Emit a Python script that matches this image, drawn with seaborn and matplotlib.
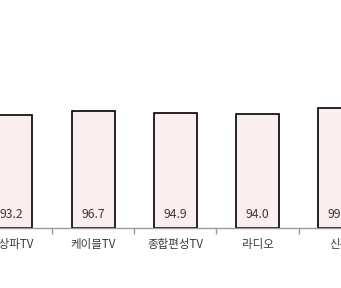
import matplotlib
matplotlib.use("Agg")
import matplotlib.pyplot as plt
import seaborn as sns
import pandas as pd
from matplotlib.ticker import FixedLocator
import matplotlib.transforms as mtransforms

categories = ["지상파TV", "케이블TV", "종합편성TV", "라디오", "신문"]
values = [93.2, 96.7, 94.9, 94.0, 99.0]
value_labels = ["93.2", "96.7", "94.9", "94.0", "99.0"]

sns.set_style("white")
plt.rcParams['font.family'] = ['Noto Sans CJK KR', 'DejaVu Sans']

df = pd.DataFrame({"cat": categories, "val": values})

fig = plt.figure(figsize=(3.41, 2.88), dpi=100)
ax = fig.add_axes([0, 60/288, 1, 228/288])
sns.barplot(data=df, x="cat", y="val", ax=ax, color="#FBEEEE",
            edgecolor="black", linewidth=1.2, width=0.52, saturation=1)

ax.set_xlim(-0.134, 4.015)
ax.set_ylim(0, 188.4)
ax.set_xlabel("")
ax.set_ylabel("")
ax.set_yticks([])
for s in ["top", "left", "right"]:
    ax.spines[s].set_visible(False)
ax.spines["bottom"].set_color("#9a9a9a")
ax.spines["bottom"].set_linewidth(1.0)

ax.tick_params(axis="x", which="major", bottom=False, length=0, pad=7.5,
               labelsize=8.3, labelcolor="#3a3a3a")
ax.xaxis.set_minor_locator(FixedLocator([i + 0.5 for i in range(len(categories) - 1)]))
ax.tick_params(axis="x", which="minor", bottom=True, direction="out", length=4,
               width=1, color="#9a9a9a")

trans = mtransforms.blended_transform_factory(ax.transData, ax.transAxes)
for i, lab in enumerate(value_labels):
    ax.text(i, 0, lab, ha="center", va="center", fontsize=8.8, color="#3a3a3a",
            transform=trans + mtransforms.ScaledTranslation(0, 14/100, fig.dpi_scale_trans))

fig.savefig("out.png", dpi=100)
